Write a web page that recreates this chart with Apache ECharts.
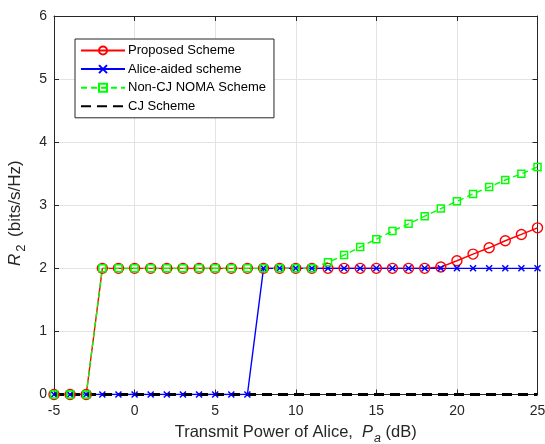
<!DOCTYPE html>
<html><head><meta charset="utf-8">
<script src="https://cdn.jsdelivr.net/npm/echarts@6/dist/echarts.min.js"></script>
<style>html,body{margin:0;padding:0;background:#fff}#c{width:545px;height:444px}</style>
</head><body><div id="c"></div>
<script>
var xValues = [-5,-4,-3,-2,-1,0,1,2,3,4,5,6,7,8,9,10,11,12,13,14,15,16,17,18,19,20,21,22,23,24,25];
var proposed = [0,0,0,2,2,2,2,2,2,2,2,2,2,2,2,2,2,2,2,2,2,2,2,2,2.02,2.12,2.226,2.326,2.437,2.537,2.642];
var aliceAided = [0,0,0,0,0,0,0,0,0,0,0,0,0,2,2,2,2,2,2,2,2,2,2,2,2,2,2,2,2,2,2];
var nonCJ = [0,0,0,2,2,2,2,2,2,2,2,2,2,2,2,2,2,2.095,2.21,2.337,2.463,2.59,2.705,2.826,2.947,3.063,3.179,3.289,3.4,3.5,3.605];
var cj = [0,0,0,0,0,0,0,0,0,0,0,0,0,0,0,0,0,0,0,0,0,0,0,0,0,0,0,0,0,0,0];
var seriesNames = ['Proposed Scheme','Alice-aided scheme','Non-CJ NOMA Scheme','CJ Scheme'];
var xTicks = [-5,0,5,10,15,20,25];
var yTicks = [0,1,2,3,4,5,6];

function pairs(ys){ return xValues.map(function(x,i){ return [x, ys[i]]; }); }
var FONT = '"Liberation Sans", Arial, Helvetica, sans-serif';
var TXT = '#262626';
var CLEAR = 'rgba(255,255,255,0)';

var chart = echarts.init(document.getElementById('c'), null, {renderer:'canvas'});
var axisCommon = {
  axisLine:{show:true, onZero:false, lineStyle:{color:TXT, width:1}},
  axisTick:{show:true, inside:true, length:5, lineStyle:{color:TXT}},
};
chart.setOption({
  animation:false,
  backgroundColor:'#fff',
  textStyle:{fontFamily:FONT},
  grid:{left:54, right:7.5, top:16, bottom:49.5, containLabel:false, outerBoundsMode:'none'},
  legend:{
    orient:'vertical', left:75, top:39,
    data:[
      {name:seriesNames[0]},
      {name:seriesNames[1]},
      {name:seriesNames[2]},
      {name:seriesNames[3], itemStyle:{opacity:0}}
    ],
    itemWidth:44, itemHeight:10, itemGap:5.6,
    padding:[5,8,5,5],
    backgroundColor:'#fff', borderColor:TXT, borderWidth:1,
    textStyle:{fontFamily:FONT, fontSize:13, color:'#000', padding:[0,0,0,-2]}
  },
  xAxis:[
    Object.assign({type:'value', min:-5, max:25, interval:5, position:'bottom',
      axisLabel:{color:TXT, fontSize:14, margin:10, fontFamily:FONT},
      splitLine:{show:true, lineStyle:{color:'#e3e3e3', width:1}},
      name:'Transmit Power of Alice,  {i|P}{sub|a} (dB)', nameLocation:'middle', nameGap:25,
      nameTextStyle:{color:TXT, fontSize:16.5, fontFamily:FONT,
        rich:{i:{fontStyle:'italic', fontSize:16.5, color:TXT, fontFamily:FONT},
              sub:{fontStyle:'italic', fontSize:12.5, color:TXT, fontFamily:FONT, padding:[13,0,0,1]}}}
    }, axisCommon),
    Object.assign({type:'value', min:-5, max:25, interval:5, position:'top',
      axisLabel:{show:false}, splitLine:{show:false}}, axisCommon)
  ],
  yAxis:[
    Object.assign({type:'value', min:0, max:6, interval:1, position:'left',
      axisLabel:{color:TXT, fontSize:14, margin:7, fontFamily:FONT},
      splitLine:{show:true, lineStyle:{color:'#e3e3e3', width:1}},
      name:'{i|R}{sub|2} (bits/s/Hz)', nameLocation:'middle', nameGap:19, nameRotate:90,
      nameTextStyle:{color:TXT, fontSize:17, fontFamily:FONT, padding:[0,16,0,0],
        rich:{i:{fontStyle:'italic', fontSize:17, color:TXT, fontFamily:FONT},
              sub:{fontSize:13, color:TXT, fontFamily:FONT, padding:[13,3,0,2]}}}
    }, axisCommon),
    Object.assign({type:'value', min:0, max:6, interval:1, position:'right',
      axisLabel:{show:false}, splitLine:{show:false}}, axisCommon)
  ],
  series:[
    {name:seriesNames[0], type:'line', data:pairs(proposed), symbol:'circle', symbolSize:10,
      showAllSymbol:true,
      lineStyle:{color:'#ff0000', width:1.4},
      itemStyle:{color:CLEAR, borderColor:'#ff0000', borderWidth:1.4}},
    {name:seriesNames[1], type:'line', data:pairs(aliceAided), symbol:'path://M0,0L10,10M10,0L0,10', symbolSize:6,
      showAllSymbol:true,
      lineStyle:{color:'#0000ff', width:1.4},
      itemStyle:{color:CLEAR, borderColor:'#0000ff', borderWidth:1.5}},
    {name:seriesNames[2], type:'line', data:pairs(nonCJ), symbol:'rect', symbolSize:7,
      showAllSymbol:true,
      lineStyle:{color:'#00ff00', width:1.4, type:[6,4]},
      itemStyle:{color:CLEAR, borderColor:'#00ff00', borderWidth:1.5}},
    {name:seriesNames[3], type:'line', data:pairs(cj), symbol:'none',
      lineStyle:{color:'#000000', width:3, type:[10,6]},
      itemStyle:{color:CLEAR, borderColor:CLEAR}}
  ]
});
</script></body></html>
